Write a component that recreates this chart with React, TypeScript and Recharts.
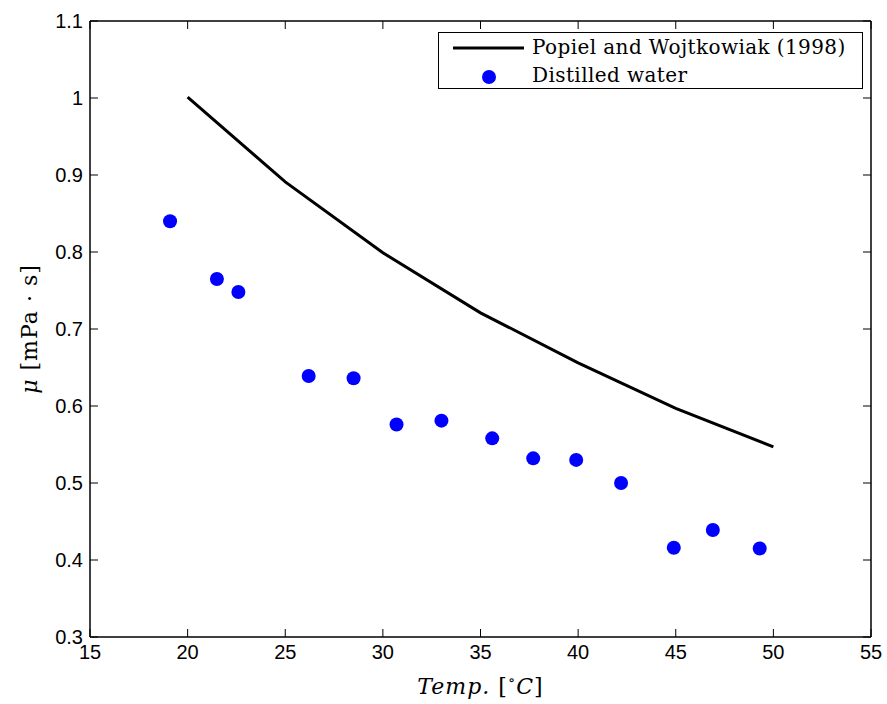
import React from 'react';
import {
  ComposedChart,
  Line,
  Scatter,
  XAxis,
  YAxis,
} from 'recharts';

// correlation curve (Popiel and Wojtkowiak 1998)
const refTemps = [20, 25, 30, 35, 40, 45, 50];
const refVisc = [1.001, 0.891, 0.799, 0.721, 0.656, 0.597, 0.547];

// measured points, distilled water
const measTemps = [19.1, 21.5, 22.6, 26.2, 28.5, 30.7, 33.0, 35.6, 37.7, 39.9, 42.2, 44.9, 46.9, 49.3];
const measVisc = [0.84, 0.765, 0.748, 0.639, 0.636, 0.576, 0.581, 0.558, 0.532, 0.53, 0.5, 0.416, 0.439, 0.415];

const xTicks = [15, 20, 25, 30, 35, 40, 45, 50, 55];
const yTicks = [0.3, 0.4, 0.5, 0.6, 0.7, 0.8, 0.9, 1.0, 1.1];

const refData = refTemps.map((t, i) => ({ t, mu: refVisc[i] }));
const measData = measTemps.map((t, i) => ({ t, mu: measVisc[i] }));

const TICK_FONT = '"Liberation Sans", Arial, sans-serif';
const SERIF = '"DejaVu Serif", "Liberation Serif", serif';
const TICK_LEN = 8;

const fmtY = (v: number) => (v === 1 ? '1' : v.toFixed(1));

const BottomTick = ({ x, y, payload }: any) => (
  <g>
    <line x1={x} x2={x} y1={y} y2={y - TICK_LEN} stroke="#000" strokeWidth={1} />
    <text x={x} y={y + 22} textAnchor="middle" fontFamily={TICK_FONT} fontSize={20} fill="#000">
      {payload.value}
    </text>
  </g>
);

const TopTick = ({ x, y }: any) => (
  <line x1={x} x2={x} y1={y} y2={y + TICK_LEN} stroke="#000" strokeWidth={1} />
);

const LeftTick = ({ x, y, payload }: any) => (
  <g>
    <line x1={x} x2={x + TICK_LEN} y1={y} y2={y} stroke="#000" strokeWidth={1} />
    <text x={x - 7} y={y + 7} textAnchor="end" fontFamily={TICK_FONT} fontSize={20} fill="#000">
      {fmtY(payload.value)}
    </text>
  </g>
);

const RightTick = ({ x, y }: any) => (
  <line x1={x} x2={x - TICK_LEN} y1={y} y2={y} stroke="#000" strokeWidth={1} />
);

const Dot = (props: any) => <circle cx={props.cx} cy={props.cy} r={7} fill="#0000ff" />;

const XLabel = ({ viewBox }: any) => {
  const cx = viewBox.x + viewBox.width / 2;
  return (
    <text x={cx} y={694} textAnchor="middle" fontFamily={SERIF} fontSize={22} fill="#000" letterSpacing={1}>
      <tspan fontStyle="italic">Temp.</tspan>
      <tspan>  [</tspan>
      <tspan fontSize={15} dy={-9}>∘</tspan>
      <tspan fontStyle="italic" dy={9}>C</tspan>
      <tspan>]</tspan>
    </text>
  );
};

const YLabel = ({ viewBox }: any) => {
  const cy = viewBox.y + viewBox.height / 2;
  return (
    <text
      x={37}
      y={cy}
      transform={`rotate(-90, 37, ${cy})`}
      textAnchor="middle"
      fontFamily={SERIF}
      fontSize={22}
      fill="#000"
      letterSpacing={1}
    >
      <tspan fontStyle="italic">μ</tspan>
      <tspan> [mPa · s]</tspan>
    </text>
  );
};

const LegendBox = () => (
  <div
    style={{
      position: 'absolute',
      left: 438,
      top: 32,
      border: '1.5px solid #000',
      background: '#fff',
      width: 425,
      height: 57,
      boxSizing: 'border-box',
      fontFamily: SERIF,
      fontSize: 20,
      letterSpacing: 0.4,
      lineHeight: '29px',
    }}
  >
    <div style={{ display: 'flex', alignItems: 'center', height: 29 }}>
      <svg width={93} height={29}>
        <line x1={14} x2={85} y1={15} y2={15} stroke="#000" strokeWidth={3} />
      </svg>
      <span>Popiel and Wojtkowiak (1998)</span>
    </div>
    <div style={{ display: 'flex', alignItems: 'center', height: 26 }}>
      <svg width={93} height={26}>
        <circle cx={50} cy={15} r={7} fill="#0000ff" />
      </svg>
      <span>Distilled water</span>
    </div>
  </div>
);

export default function App() {
  return (
    <div style={{ position: 'absolute', left: 0, top: 0, width: 887, height: 704, background: '#fff' }}>
      <ComposedChart
        width={887}
        height={704}
        margin={{ top: 20, right: 15, left: 0, bottom: 0 }}
      >
        <XAxis
          xAxisId="b"
          type="number"
          dataKey="t"
          domain={[15, 55]}
          ticks={xTicks}
          allowDataOverflow
          height={67}
          tickSize={0}
          tickMargin={0}
          tickLine={false}
          axisLine={{ stroke: '#000', strokeWidth: 1.5 }}
          tick={<BottomTick />}
          interval={0}
          label={<XLabel />}
        />
        <XAxis
          xAxisId="t"
          orientation="top"
          type="number"
          dataKey="t"
          domain={[15, 55]}
          ticks={xTicks}
          allowDataOverflow
          height={1}
          tickSize={0}
          tickMargin={0}
          tickLine={false}
          axisLine={{ stroke: '#000', strokeWidth: 1.5 }}
          tick={<TopTick />}
          interval={0}
        />
        <YAxis
          yAxisId="l"
          type="number"
          dataKey="mu"
          domain={[0.3, 1.1]}
          ticks={yTicks}
          allowDataOverflow
          width={90}
          tickSize={0}
          tickMargin={0}
          tickLine={false}
          axisLine={{ stroke: '#000', strokeWidth: 1.5 }}
          tick={<LeftTick />}
          interval={0}
          label={<YLabel />}
        />
        <YAxis
          yAxisId="r"
          orientation="right"
          type="number"
          dataKey="mu"
          domain={[0.3, 1.1]}
          ticks={yTicks}
          allowDataOverflow
          width={1}
          tickSize={0}
          tickMargin={0}
          tickLine={false}
          axisLine={{ stroke: '#000', strokeWidth: 1.5 }}
          tick={<RightTick />}
          interval={0}
        />
        <Line
          xAxisId="b"
          yAxisId="l"
          data={refData}
          dataKey="mu"
          type="linear"
          stroke="#000"
          strokeWidth={3}
          dot={false}
          activeDot={false}
          isAnimationActive={false}
          name="Popiel and Wojtkowiak (1998)"
        />
        <Scatter
          xAxisId="b"
          yAxisId="l"
          data={measData}
          dataKey="mu"
          fill="#0000ff"
          shape={<Dot />}
          isAnimationActive={false}
          name="Distilled water"
        />
      </ComposedChart>
      <LegendBox />
    </div>
  );
}
